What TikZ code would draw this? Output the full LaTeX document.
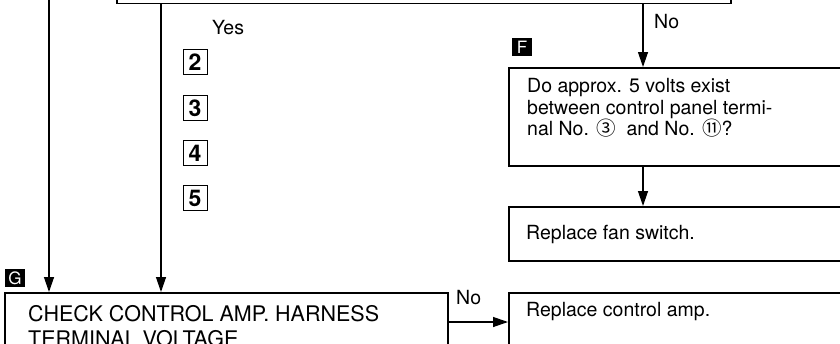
\documentclass[tikz,border=0pt]{standalone}
\usepackage{fontspec}
\setmainfont{TeX Gyre Heros}
\newfontfamily\circfont{Noto Sans CJK SC}
\usetikzlibrary{arrows.meta, positioning}

\tikzset{
  box/.style={draw, rectangle, line width=1.5pt, anchor=north west, inner sep=0pt},
  txt/.style={anchor=north west, align=left, inner sep=0pt, font=\fontsize{19.5}{21.7}\selectfont},
  head/.style={anchor=north west, align=left, inner sep=0pt, font=\fontsize{21.5}{25}\selectfont},
  lbl/.style={anchor=west, inner sep=0pt, font=\fontsize{19.5}{21.7}\selectfont},
  arr/.style={line width=1.3pt, -{Triangle[length=15pt, width=10pt]}},
  tag/.style={fill=black, text=white, minimum width=20pt, minimum height=18pt, inner sep=0pt, font=\fontsize{17}{17}\selectfont},
  stepnum/.style={draw, line width=0.8pt, minimum width=24pt, minimum height=25pt, inner sep=0pt, font=\bfseries\fontsize{23}{23}\selectfont}
}

\begin{document}
\begin{tikzpicture}[x=1pt, y=-1pt]
  \useasboundingbox (0,0) rectangle (840,343);
  \clip (0,0) rectangle (840,343);

  % boxes
  \node[box, minimum width=614pt, minimum height=60pt, anchor=south west] (query) at (116,4) {};
  \node[box, minimum width=372pt, minimum height=98pt] (volts) at (508,67) {};
  \node[box, minimum width=372pt, minimum height=54pt] (fansw) at (508,206) {};
  \node[box, minimum width=372pt, minimum height=80pt] (amp) at (508,292) {};
  \node[box, minimum width=443pt, minimum height=90pt] (check) at (4,292) {};

  % texts
  \node[txt] (voltstxt) at ([shift={(19pt,-11pt)}]volts.north west) {Do approx. 5 volts exist\\between control panel termi-\\nal No. {\circfont ③}\ \ and No. {\circfont ⑪}?};
  \node[lbl] (fanswtxt) at ([shift={(18pt,-28pt)}]fansw.north west) {Replace fan switch.};
  \node[lbl] (amptxt) at ([shift={(18pt,-20pt)}]amp.north west) {Replace control amp.};
  \node[head] (checktxt) at ([shift={(24pt,-13pt)}]check.north west) {CHECK CONTROL AMP. HARNESS\\TERMINAL VOLTAGE};

  % labels
  \node[lbl] (yes) at (212,28) {Yes};
  \node[lbl] (noF) at (654,22) {No};
  \node[lbl] (noamp) at (456,298) {No};
  \node[tag] (tagF) at (522,47) {F};
  \node[tag] (tagG) at (15,278) {G};
  \foreach \n/\yy in {2/62,3/108,4/153,5/198}
    \node[stepnum] (num\n) at (195,\yy) {\n};

  % connectors
  \coordinate (above) at (49,-5);
  \draw[arr] (above) -- (above |- check.north);
  \draw[arr] ([xshift=45pt]query.south west) -- ([xshift=45pt]query.south west |- check.north);
  \draw[arr] ([xshift=527pt]query.south west) -- ([xshift=527pt]query.south west |- volts.north);
  \draw[arr] ([xshift=135pt]volts.south west) -- ([xshift=135pt]fansw.north west);
  \draw[arr] ([yshift=-30pt]check.north east) -- ([yshift=-30pt]amp.north west);
\end{tikzpicture}
\end{document}
